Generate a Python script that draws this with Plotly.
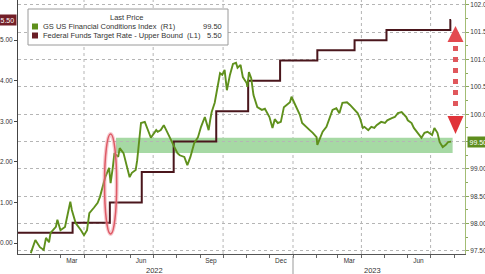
import plotly.graph_objects as go
import pandas as pd

# ---------------- data ----------------
fci_dates = [
    "2022-01-21", "2022-01-27", "2022-02-02", "2022-02-07", "2022-02-10", "2022-02-14", "2022-02-16",
    "2022-02-23", "2022-02-25", "2022-03-01", "2022-03-07", "2022-03-10", "2022-03-14", "2022-03-16",
    "2022-03-21", "2022-03-28", "2022-04-01", "2022-04-05", "2022-04-08", "2022-04-14", "2022-04-19",
    "2022-04-22", "2022-04-25", "2022-04-29", "2022-05-04", "2022-05-06", "2022-05-09", "2022-05-11",
    "2022-05-16", "2022-05-18", "2022-05-23", "2022-05-26", "2022-05-31", "2022-06-03", "2022-06-08",
    "2022-06-10", "2022-06-15", "2022-06-20", "2022-06-24", "2022-06-28", "2022-07-05", "2022-07-07",
    "2022-07-11", "2022-07-15", "2022-07-20", "2022-07-25", "2022-07-29", "2022-08-02", "2022-08-05",
    "2022-08-11", "2022-08-15", "2022-08-19", "2022-08-24", "2022-08-29", "2022-09-02", "2022-09-07",
    "2022-09-12", "2022-09-14", "2022-09-16", "2022-09-20", "2022-09-23", "2022-09-27", "2022-09-30",
    "2022-10-03", "2022-10-06", "2022-10-10", "2022-10-14", "2022-10-18", "2022-10-20", "2022-10-24",
    "2022-10-27", "2022-11-01", "2022-11-02", "2022-11-04", "2022-11-07", "2022-11-10", "2022-11-15",
    "2022-11-21", "2022-11-25", "2022-11-29", "2022-12-01", "2022-12-05", "2022-12-08", "2022-12-12",
    "2022-12-16", "2022-12-20", "2022-12-23", "2022-12-28", "2022-12-30", "2023-01-03", "2023-01-06",
    "2023-01-10", "2023-01-13", "2023-01-19", "2023-01-23", "2023-01-27", "2023-02-01", "2023-02-02",
    "2023-02-06", "2023-02-09", "2023-02-14", "2023-02-17", "2023-02-22", "2023-02-27", "2023-03-03",
    "2023-03-07", "2023-03-13", "2023-03-17", "2023-03-21", "2023-03-27", "2023-03-30", "2023-04-03",
    "2023-04-05", "2023-04-10", "2023-04-14", "2023-04-18", "2023-04-21", "2023-04-27", "2023-05-02",
    "2023-05-05", "2023-05-11", "2023-05-15", "2023-05-19", "2023-05-24", "2023-05-30", "2023-06-01",
    "2023-06-06", "2023-06-09", "2023-06-14", "2023-06-19", "2023-06-23", "2023-06-27", "2023-07-03",
    "2023-07-06", "2023-07-10", "2023-07-13", "2023-07-17", "2023-07-21", "2023-07-24", "2023-07-28",
]
fci_values = [
    97.46, 97.70, 97.57, 97.52, 97.74, 97.66, 97.83,
    97.94, 98.07, 97.88, 97.94, 98.12, 98.40, 98.25,
    98.01, 97.88, 97.79, 97.88, 98.19, 98.29, 98.38,
    98.49, 98.67, 98.85, 99.02, 98.74, 99.04, 99.29,
    99.22, 99.38, 99.29, 99.11, 98.85, 98.93, 98.98,
    99.16, 99.84, 99.86, 99.71, 99.57, 99.71, 99.68,
    99.71, 99.80, 99.66, 99.53, 99.40, 99.29, 99.25,
    99.22, 99.07, 99.22, 99.47, 99.58, 99.77, 99.95,
    99.71, 99.89, 100.04, 100.21, 100.44, 100.75, 100.72,
    100.81, 100.44, 100.72, 100.92, 100.94, 100.85, 100.90,
    100.68, 100.57, 100.50, 100.77, 100.66, 100.35, 100.13,
    100.08, 100.10, 99.99, 99.95, 99.75, 99.91, 99.84,
    99.86, 100.13, 100.17, 100.22, 100.32, 100.21, 100.11,
    99.99, 99.84, 99.75, 99.71, 99.66, 99.58, 99.44,
    99.58, 99.68, 99.77, 99.89, 100.08, 100.11, 100.02,
    100.21, 100.22, 100.17, 100.11, 100.02, 99.93, 99.75,
    99.77, 99.71, 99.77, 99.75, 99.80, 99.86, 99.84,
    99.89, 99.93, 99.95, 100.02, 100.04, 99.95, 99.89,
    99.84, 99.75, 99.66, 99.57, 99.66, 99.68, 99.62,
    99.75, 99.66, 99.49, 99.40, 99.44, 99.49, 99.50,
]
fed_dates = ["2022-01-03", "2022-03-17", "2022-05-05", "2022-06-16", "2022-07-28", "2022-09-22",
             "2022-11-03", "2022-12-15", "2023-02-02", "2023-03-23", "2023-05-04", "2023-07-27",
             "2023-07-28"]
fed_rates = [0.25, 0.50, 1.00, 1.75, 2.50, 3.25, 4.00, 4.50, 4.75, 5.00, 5.25, 5.50, 5.50]

fci_name = "GS US Financial Conditions Index\u00a0\u00a0(R1)"
fed_name = "Federal Funds Target Rate - Upper Bound\u00a0\u00a0(L1)"
fci_last = "99.50"
fed_last = "5.50"

month_labels = ["Mar", "Jun", "Sep", "Dec", "Mar", "Jun"]
month_label_dates = ["2022-03-16", "2022-06-15", "2022-09-15", "2022-12-16", "2023-03-16", "2023-06-15"]
quarter_lines = ["2022-04-01", "2022-07-01", "2022-10-01", "2023-01-01", "2023-04-01", "2023-07-01"]
year_labels = ["2022", "2023"]
year_label_dates = ["2022-07-03", "2023-04-15"]

band_range = (99.29, 99.57)
band_dates = ("2022-05-13", "2023-07-30")
ellipse_dates = ("2022-04-28", "2022-05-14")
ellipse_values = (97.81, 99.64)

# ---------------- geometry / style ----------------
W, H = 485, 274
ML, MR, MT, MB = 18, 20, 0, 20
PW, PH = W - ML - MR, H - MT - MB
X_RANGE = ["2022-01-04 04:00", "2023-08-15 07:00"]
Y_LEFT = [-0.271, 5.99]
Y_RIGHT = [97.445, 102.089]

GREEN = "#5f901c"
MAROON = "#4a161c"
GRID = "#b5b5b5"
TXT = "#333333"
FONT = "Liberation Sans"

x0_ts, x1_ts = pd.Timestamp(X_RANGE[0]), pd.Timestamp(X_RANGE[1])


def px(x):
    return (x - ML) / PW


def py(y):
    return 1 - (y - MT) / PH


def dpx(d):
    return (pd.Timestamp(d) - x0_ts) / (x1_ts - x0_ts)


fig = go.Figure()
fig.add_trace(go.Scatter(x=fed_dates, y=fed_rates, mode="lines", yaxis="y",
                         line=dict(color=MAROON, width=2, shape="hv"), hoverinfo="skip",
                         showlegend=False))
fig.add_trace(go.Scatter(x=fci_dates, y=fci_values, mode="lines", yaxis="y2",
                         line=dict(color=GREEN, width=1.9), hoverinfo="skip", showlegend=False))

shapes = []
# green band
shapes.append(dict(type="rect", xref="x", yref="y2", x0=band_dates[0], x1=band_dates[1],
                   y0=band_range[0], y1=band_range[1], fillcolor="#a6d9a4", line=dict(width=0),
                   layer="below"))
# vertical dotted gridlines
for q in quarter_lines:
    shapes.append(dict(type="line", xref="x", yref="paper", x0=q, x1=q, y0=0, y1=1,
                       line=dict(color=GRID, width=1, dash="dot"), layer="below"))
# year separator below the axis
shapes.append(dict(type="line", xref="paper", yref="paper", x0=dpx("2023-01-01"), x1=dpx("2023-01-01"),
                   y0=py(256), y1=py(274), line=dict(color="#999999", width=1)))
# red ellipse
shapes.append(dict(type="circle", xref="x", yref="y2", x0=ellipse_dates[0], x1=ellipse_dates[1],
                   y0=ellipse_values[0], y1=ellipse_values[1],
                   line=dict(color="rgba(235,140,150,0.45)", width=4), layer="above"))
shapes.append(dict(type="circle", xref="x", yref="y2", x0=ellipse_dates[0], x1=ellipse_dates[1],
                   y0=ellipse_values[0], y1=ellipse_values[1],
                   line=dict(color="#de5a66", width=1.5), layer="above"))
# red double arrow
ax = 455.5
shapes.append(dict(type="line", xref="paper", yref="paper", x0=px(ax), x1=px(ax), y0=py(46), y1=py(111),
                   line=dict(color="#e0575c", width=5, dash="5px,6px")))
shapes.append(dict(type="path", xref="paper", yref="paper",
                   path=f"M{px(ax)},{py(26)} L{px(ax + 8)},{py(42)} L{px(ax - 8)},{py(42)} Z",
                   fillcolor="#e34a50", line=dict(width=0)))
shapes.append(dict(type="path", xref="paper", yref="paper",
                   path=f"M{px(ax - 8)},{py(116)} L{px(ax + 8)},{py(116)} L{px(ax)},{py(134)} Z",
                   fillcolor="#e0343a", line=dict(width=0)))
# legend box
shapes.append(dict(type="rect", xref="paper", yref="paper", x0=px(28), x1=px(228), y0=py(45), y1=py(9),
                   fillcolor="white", line=dict(color="#9a9a9a", width=1), layer="above"))
shapes.append(dict(type="rect", xref="paper", yref="paper", x0=px(32), x1=px(38), y0=py(29.5), y1=py(23.5),
                   fillcolor=GREEN, line=dict(width=0), layer="above"))
shapes.append(dict(type="rect", xref="paper", yref="paper", x0=px(32), x1=px(38), y0=py(38.5), y1=py(32.5),
                   fillcolor="#6a1e26", line=dict(width=0), layer="above"))

ann = []
lf = dict(family=FONT, size=7.5, color=TXT)
ann.append(dict(text="Last Price", xref="paper", yref="paper", x=px(126), y=py(18), showarrow=False,
                xanchor="center", yanchor="middle", font=lf))
ann.append(dict(text=fci_name, xref="paper", yref="paper", x=px(41), y=py(26.5), showarrow=False,
                xanchor="left", yanchor="middle", font=lf))
ann.append(dict(text=fed_name, xref="paper", yref="paper", x=px(41), y=py(35.5), showarrow=False,
                xanchor="left", yanchor="middle", font=lf))
ann.append(dict(text=fci_last, xref="paper", yref="paper", x=px(224), y=py(26.5), showarrow=False,
                xanchor="right", yanchor="middle", font=lf))
ann.append(dict(text=fed_last, xref="paper", yref="paper", x=px(224), y=py(35.5), showarrow=False,
                xanchor="right", yanchor="middle", font=lf))
# year labels
for t, d in zip(year_labels, year_label_dates):
    ann.append(dict(text=t, xref="x", yref="paper", x=d, y=py(270), showarrow=False,
                    xanchor="center", yanchor="middle", font=dict(family=FONT, size=7.5, color=TXT)))
# last-value tags on axes
ann.append(dict(text=fed_last, xref="paper", yref="y", x=0, y=fed_rates[-1], xanchor="right", xshift=-1,
                yanchor="middle", showarrow=False, bgcolor="#731f28", borderpad=1.5,
                font=dict(family=FONT, size=7, color="white")))
ann.append(dict(text=fci_last, xref="paper", yref="y2", x=1, y=fci_values[-1], xanchor="left", xshift=2,
                yanchor="middle", showarrow=False, bgcolor="#5e8d1d", borderpad=1.5,
                font=dict(family=FONT, size=7, color="white")))

right_ticks = [97.5 + 0.5 * i for i in range(10)]
right_text = ["" if abs(v - 99.5) < 1e-9 else f"{v:.2f}" for v in right_ticks]
month_starts = [d.strftime("%Y-%m-%d") for d in pd.date_range("2022-02-01", "2023-08-01", freq="MS")]

tickfont = dict(family=FONT, size=6.5, color=TXT)
fig.update_layout(
    width=W, height=H, autosize=False,
    margin=dict(l=ML, r=MR, t=MT, b=MB, pad=0),
    paper_bgcolor="white", plot_bgcolor="white",
    showlegend=False,
    xaxis=dict(range=X_RANGE, type="date", tickmode="array", tickvals=month_label_dates,
               ticktext=month_labels, ticks="", showgrid=False, zeroline=False, showline=True,
               linecolor="#555555", linewidth=1, tickfont=tickfont, automargin=False,
               minor=dict(tickmode="array", tickvals=month_starts, ticks="outside", ticklen=3,
                          tickcolor="#666666", showgrid=False)),
    yaxis=dict(range=Y_LEFT, tick0=0, dtick=1, tickformat=".2f", ticks="outside", ticklen=3,
               tickcolor="#444444", showline=True, linecolor="#444444", showgrid=False, zeroline=False,
               tickfont=tickfont, automargin=False),
    yaxis2=dict(range=Y_RIGHT, overlaying="y", side="right", tickmode="array", tickvals=right_ticks,
                ticktext=right_text, ticks="outside", ticklen=3, tickcolor="#8aa860", showline=True,
                linecolor="#a3bd74", showgrid=True, gridcolor=GRID, griddash="dot", gridwidth=1,
                zeroline=False, tickfont=tickfont, automargin=False,
                minor=dict(tickmode="linear", tick0=97.25, dtick=0.5, ticks="outside", ticklen=2,
                           tickcolor="#8aa860", showgrid=False)),
    shapes=shapes,
    annotations=ann,
)

fig.write_html("out.html")
